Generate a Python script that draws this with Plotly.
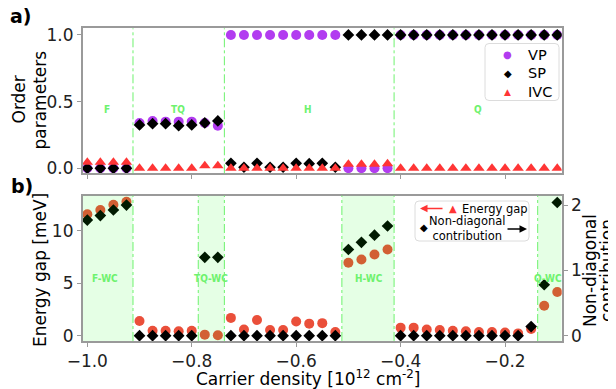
import plotly.graph_objects as go

# ---------------- data ----------------
density = [-1.0, -0.975, -0.95, -0.925, -0.9, -0.875, -0.85, -0.825, -0.8, -0.775,
           -0.75, -0.725, -0.7, -0.675, -0.65, -0.625, -0.6, -0.575, -0.55, -0.525,
           -0.5, -0.475, -0.45, -0.425, -0.4, -0.375, -0.35, -0.325, -0.3, -0.275,
           -0.25, -0.225, -0.2, -0.175, -0.15, -0.125, -0.1]

vp = [0, 0, 0, 0,
      0.34, 0.355, 0.35, 0.35, 0.35, 0.34, 0.32,
      1, 1, 1, 1, 1, 1, 1, 1, 1, 0, 0, 0, 0,
      1, 1, 1, 1, 1, 1, 1, 1, 1, 1, 1, 1, 1]
sp = [0, 0, 0, 0,
      0.325, 0.335, 0.335, 0.32, 0.325, 0.34, 0.355,
      0.037, 0.008, 0.037, 0.008, 0.008, 0.037, 0.035, 0.037, 0.008, 1, 1, 1, 1,
      1, 1, 1, 1, 1, 1, 1, 1, 1, 1, 1, 1, 1]
ivc = [0.045, 0.045, 0.045, 0.045,
       0, 0, 0, 0, 0, 0.02, 0.02,
       0, 0, 0, 0, 0, 0, 0, 0, 0, 0.03, 0.03, 0.03, 0.035,
       0, 0, 0, 0, 0, 0, 0, 0, 0, 0, 0, 0, 0]

gap = [11.6, 12.0, 12.5, 12.8,
       1.41, 0.48, 0.48, 0.42, 0.48, 0.1, 0.05,
       1.7, 0.6, 1.5, 0.55, 0.55, 1.35, 1.15, 1.2, 0.35,
       6.96, 7.28, 7.76, 8.24,
       0.77, 0.77, 0.6, 0.55, 0.48, 0.42, 0.35, 0.35, 0.3, 0.22, 0.64,
       2.86, 4.17]
nondiag = [1.77, 1.84, 1.925, 2.0,
           0, 0, 0, 0, 0, 1.2, 1.2,
           0, 0, 0, 0, 0, 0, 0, 0, 0,
           1.32, 1.43, 1.54, 1.68,
           0, 0, 0, 0, 0, 0, 0, 0, 0, 0, 0.14,
           0.78, 2.04]

top_bounds = [-0.9125, -0.7375, -0.4125]
top_labels = ["F", "TQ", "H", "Q"]
top_label_x = [-0.963, -0.826, -0.578, -0.252]

wc_start = [-1.0088, -0.7875, -0.5125, -0.1375]
wc_end = [-0.9125, -0.7375, -0.4125, -0.0915]
wc_labels = ["F-WC", "TQ-WC", "H-WC", "Q-WC"]
wc_label_x = [-0.966, -0.763, -0.461, -0.118]

legend_names = ["VP", "SP", "IVC"]

x_ticks = [-1.0, -0.8, -0.6, -0.4, -0.2]
x_ticktext = ["\u22121.0", "\u22120.8", "\u22120.6", "\u22120.4", "\u22120.2"]

# ---------------- style ----------------
W, H = 616, 389
OX, OY = 8, 8          # page body margin offset
FONT = "DejaVu Sans"
PURPLE = "#b23cf0"
RED_T = "#ff3535"
RED_C = "#ea4f3a"
GREEN_L = "#6ef26e"
FRAME = "#9a9a9a"
X_RANGE = [-1.0088, -0.0915]


def px(x):
    return (x - OX) / W


def py(y):
    return 1 - (y - OY) / H


fig = go.Figure()

# top panel
fig.add_trace(go.Scatter(x=density, y=vp, mode="markers", xaxis="x", yaxis="y",
                         name="VP", marker=dict(symbol="circle", size=10, color=PURPLE),
                         showlegend=False))
fig.add_trace(go.Scatter(x=density, y=sp, mode="markers", xaxis="x", yaxis="y",
                         name="SP", marker=dict(symbol="diamond", size=9, color="black"),
                         showlegend=False))
fig.add_trace(go.Scatter(x=density, y=ivc, mode="markers", xaxis="x", yaxis="y",
                         name="IVC", marker=dict(symbol="triangle-up", size=10, color=RED_T),
                         showlegend=False))

# bottom panel
fig.add_trace(go.Scatter(x=density, y=gap, mode="markers", xaxis="x2", yaxis="y2",
                         name="Energy gap",
                         marker=dict(symbol="circle", size=10, color=RED_C),
                         showlegend=False))
fig.add_trace(go.Scatter(x=density, y=nondiag, mode="markers", xaxis="x2", yaxis="y3",
                         name="Non-diagonal contribution",
                         marker=dict(symbol="diamond", size=9, color="black"),
                         showlegend=False))

shapes = []
for b in top_bounds:
    shapes.append(dict(type="line", xref="x", yref="y domain", x0=b, x1=b, y0=0, y1=1,
                       line=dict(color=GREEN_L, width=1, dash="dashdot")))
for s, e in zip(wc_start, wc_end):
    shapes.append(dict(type="rect", xref="x2", yref="y2 domain", x0=s, x1=e, y0=0, y1=1,
                       fillcolor="rgba(0,255,0,0.1)", line=dict(width=0), layer="above"))
    for b in (s, e):
        if X_RANGE[0] < b < X_RANGE[1]:
            shapes.append(dict(type="line", xref="x2", yref="y2 domain", x0=b, x1=b,
                               y0=0, y1=1,
                               line=dict(color=GREEN_L, width=1, dash="dashdot")))


def rounded_box(bx0, bx1, by0, by1, r=4):
    path = (f"M {px(bx0 + r)},{py(by0)} L {px(bx1 - r)},{py(by0)} "
            f"Q {px(bx1)},{py(by0)} {px(bx1)},{py(by0 + r)} "
            f"L {px(bx1)},{py(by1 - r)} Q {px(bx1)},{py(by1)} {px(bx1 - r)},{py(by1)} "
            f"L {px(bx0 + r)},{py(by1)} Q {px(bx0)},{py(by1)} {px(bx0)},{py(by1 - r)} "
            f"L {px(bx0)},{py(by0 + r)} Q {px(bx0)},{py(by0)} {px(bx0 + r)},{py(by0)} Z")
    shapes.append(dict(type="path", xref="paper", yref="paper", path=path,
                       fillcolor="rgba(255,255,255,0.85)",
                       line=dict(color="#dcdcdc", width=1), layer="above"))


rounded_box(485, 559, 43.5, 100.5)
rounded_box(415, 529, 201, 241)

annotations = []


def ann(x, y, text, size, color="black", family=FONT, angle=0, xanchor="center",
        xref="paper", yref="paper", **kw):
    if xref == "paper":
        x = px(x)
    if yref == "paper":
        y = py(y)
    annotations.append(dict(x=x, y=y, xref=xref, yref=yref, text=text, showarrow=False,
                            xanchor=xanchor, yanchor="middle", textangle=angle,
                            font=dict(family=family, size=size, color=color), **kw))


for lab, lx in zip(top_labels, top_label_x):
    ann(lx, 0.44, f"<b>{lab}</b>", 10, GREEN_L, "DejaVu Sans Condensed", xref="x", yref="y")
for lab, lx in zip(wc_labels, wc_label_x):
    ann(lx, 5.5, f"<b>{lab}</b>", 10, GREEN_L, "DejaVu Sans Condensed", xref="x2", yref="y2")

# panel letters
ann(8, 16, "<b>a)</b>", 19, xanchor="left")
ann(9, 186, "<b>b)</b>", 19, xanchor="left")
# axis titles
ann(18.5, 100, "Order", 17, angle=-90)
ann(39.5, 100, "parameters", 17, angle=-90)
ann(40, 270, "Energy gap [meV]", 17, angle=-90)
ann(590, 271, "Non-diagonal", 17, angle=-90)
ann(607, 271, "contribution", 17, angle=-90)
ann(308, 378, "Carrier density [10<sup>12</sup> cm<sup>-2</sup>]", 17)

# top legend contents
legend_rows = [55, 73.5, 92]
legend_glyph = [("\u25cf", PURPLE, 10), ("\u25c6", "black", 10), ("\u25b2", RED_T, 9)]
for name, row, (g, col, gs) in zip(legend_names, legend_rows, legend_glyph):
    ann(507.5, row, g, gs, col)
    ann(526, row, name, 14.5, xanchor="left")

# bottom legend contents
annotations.append(dict(x=px(420), y=py(208.5), xref="paper", yref="paper", text="",
                        showarrow=True, ax=24, ay=0, arrowhead=2, arrowsize=1,
                        arrowwidth=1.5, arrowcolor=RED_T))
ann(453, 208.5, "\u25b2", 10, RED_T)
ann(459.5, 208.5, "Energy gap", 11.5, xanchor="left")
ann(424, 227, "\u25c6", 10)
ann(467, 228.5, "Non-diagonal<br>contribution", 11.5, align="center")
annotations.append(dict(x=px(527), y=py(229), xref="paper", yref="paper", text="",
                        showarrow=True, ax=-21, ay=0, arrowhead=2, arrowsize=1,
                        arrowwidth=1.5, arrowcolor="black"))

axis_common = dict(showline=True, mirror=True, linecolor=FRAME, linewidth=1.6,
                   ticks="outside", ticklen=4, tickcolor=FRAME, showgrid=False,
                   zeroline=False, automargin=False,
                   tickfont=dict(family=FONT, size=17, color="#222222"))

fig.update_layout(
    width=W, height=H,
    margin=dict(l=0, r=0, t=0, b=0, autoexpand=False),
    paper_bgcolor="white", plot_bgcolor="white",
    font=dict(family=FONT, color="black"),
    showlegend=False,
    xaxis=dict(domain=[px(82.7), px(561.7)], anchor="y", range=X_RANGE,
               tickvals=x_ticks, showticklabels=False, **axis_common),
    yaxis=dict(domain=[py(173.3), py(28.3)], anchor="x", range=[-0.0375, 1.05],
               tickvals=[0, 0.5, 1.0], ticktext=["0.0", "0.5", "1.0"], **axis_common),
    xaxis2=dict(domain=[px(82.7), px(561.7)], anchor="y2", range=X_RANGE,
                tickvals=x_ticks, ticktext=x_ticktext, **axis_common),
    yaxis2=dict(domain=[py(341), py(195.7)], anchor="x2", range=[-0.506, 13.37],
                tickvals=[0, 5, 10], ticktext=["0", "5", "10"], **axis_common),
    yaxis3=dict(overlaying="y2", side="right", anchor="x2", range=[-0.081, 2.144],
                tickvals=[0, 1, 2], ticktext=["0", "1", "2"],
                **{k: v for k, v in axis_common.items() if k != "mirror"}),
    shapes=shapes,
    annotations=annotations,
)

fig.write_html("out.html")
